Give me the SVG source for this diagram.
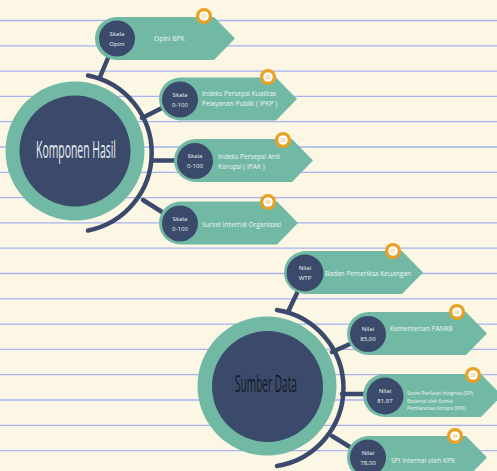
<svg xmlns="http://www.w3.org/2000/svg" width="497" height="471" viewBox="0 0 497 471">
<style>
.ln{stroke:#a6b3f0;stroke-width:1.3}
.cn{stroke:#3b4a6b;stroke-width:4.5;stroke-linecap:round;fill:none}
.pill{fill:#72b9a5}
.dk{fill:#3b4a6b}
.ring{fill:#72b9a5}
.bo{fill:#e9a023}
.bi{fill:#ffffff}
.bt{font-family:"Open Sans","DejaVu Sans",sans-serif;font-size:4.5px;fill:#e9a023;text-anchor:middle}
.sc{font-family:"Open Sans","DejaVu Sans",sans-serif;font-size:6.1px;fill:#eef2ef;text-anchor:middle}
.lb{font-family:"Open Sans","DejaVu Sans",sans-serif;font-size:6.6px;fill:#eef4f0}
.lbs{font-family:"Open Sans","DejaVu Sans",sans-serif;font-size:4.6px;fill:#eef4f0}
.big{font-family:"Open Sans","DejaVu Sans",sans-serif;text-anchor:middle}
</style>
<rect width="497" height="471" fill="#fcf6e5"/>
<g id="paper-lines">
<line class="ln" x1="0" y1="20.5" x2="497" y2="20.5"/>
<line class="ln" x1="0" y1="45.8" x2="497" y2="45.8"/>
<line class="ln" x1="0" y1="71.1" x2="497" y2="71.1"/>
<line class="ln" x1="0" y1="96.4" x2="497" y2="96.4"/>
<line class="ln" x1="0" y1="121.7" x2="497" y2="121.7"/>
<line class="ln" x1="0" y1="147" x2="497" y2="147"/>
<line class="ln" x1="0" y1="172.3" x2="497" y2="172.3"/>
<line class="ln" x1="0" y1="197.6" x2="497" y2="197.6"/>
<line class="ln" x1="0" y1="222.9" x2="497" y2="222.9"/>
<line class="ln" x1="0" y1="248.2" x2="497" y2="248.2"/>
<line class="ln" x1="0" y1="273.5" x2="497" y2="273.5"/>
<line class="ln" x1="0" y1="298.8" x2="497" y2="298.8"/>
<line class="ln" x1="0" y1="324.1" x2="497" y2="324.1"/>
<line class="ln" x1="0" y1="349.4" x2="497" y2="349.4"/>
<line class="ln" x1="0" y1="374.7" x2="497" y2="374.7"/>
<line class="ln" x1="0" y1="400" x2="497" y2="400"/>
<line class="ln" x1="0" y1="425.3" x2="497" y2="425.3"/>
<line class="ln" x1="0" y1="450.6" x2="497" y2="450.6"/>
</g>
<g id="connectors">
<path class="cn" d="M88,75.5 A79 79 0 0 1 88,230.5"/>
<line class="cn" x1="100" y1="77" x2="108" y2="58"/>
<line class="cn" x1="142" y1="118" x2="162" y2="108"/>
<line class="cn" x1="153" y1="160.5" x2="176" y2="160.5"/>
<line class="cn" x1="143" y1="200" x2="162" y2="212"/>
<path class="cn" d="M277,310 A79 79 0 0 1 277,466"/>
<line class="cn" x1="288" y1="312" x2="297" y2="293"/>
<line class="cn" x1="332" y1="352" x2="350" y2="344"/>
<line class="cn" x1="342" y1="394" x2="364" y2="394"/>
<line class="cn" x1="332" y1="436" x2="350" y2="447"/>
</g>
<g id="komponen-hasil">
<circle class="ring" cx="75" cy="151" r="69.5"/>
<circle class="dk" cx="75" cy="151" r="55.5"/>
<text class="big" transform="translate(76,158) scale(0.4525,1)" x="0" y="0" font-size="23" fill="#e9eef0">Komponen Hasil</text>
</g>
<g id="sumber-data">
<circle class="ring" cx="267" cy="386" r="69.5"/>
<circle class="dk" cx="267.5" cy="386.5" r="55.5"/>
<text class="big" transform="translate(266,392) scale(0.421,1)" x="0" y="0" font-size="24" fill="#151a26">Sumber Data</text>
</g>
<g id="k1">
<path class="pill" d="M116.5,17 H214 L235,38.5 L214,60 H116.5 A21.5 21.5 0 0 1 116.5,17 Z"/>
<circle class="dk" cx="117" cy="38.5" r="18"/>
<text class="sc" x="117" y="35.5">Skala</text>
<text class="sc" x="117" y="45.5">Opini</text>
<text class="lb" x="154" y="40.5">Opini BPK</text>
<circle class="bo" cx="204" cy="16" r="8"/><circle class="bi" cx="204" cy="16" r="4.8"/>
<text class="bt" x="204" y="17.6">01</text>
</g>
<g id="k2">
<path class="pill" d="M180.5,77.5 H276 L297,99 L276,120.5 H180.5 A21.5 21.5 0 0 1 180.5,77.5 Z"/>
<circle class="dk" cx="180" cy="99.5" r="18"/>
<text class="sc" x="180" y="96.5">Skala</text>
<text class="sc" x="180" y="106.5">0-100</text>
<text class="lb" x="202" y="96">Indeks Persepsi Kualitas</text>
<text class="lb" x="202" y="106">Pelayanan Publik ( IPKP )</text>
<circle class="bo" cx="268" cy="77" r="8"/><circle class="bi" cx="268" cy="77" r="4.8"/>
<text class="bt" x="268" y="78.6">02</text>
</g>
<g id="k3">
<path class="pill" d="M195.5,139 H292 L313,160.5 L292,182 H195.5 A21.5 21.5 0 0 1 195.5,139 Z"/>
<circle class="dk" cx="195" cy="161" r="18"/>
<text class="sc" x="195" y="158">Skala</text>
<text class="sc" x="195" y="168">0-100</text>
<text class="lb" x="218" y="159">Indeks Persepsi Anti</text>
<text class="lb" x="218" y="169">Korupsi ( IPAK )</text>
<circle class="bo" cx="283" cy="140" r="8"/><circle class="bi" cx="283" cy="140" r="4.8"/>
<text class="bt" x="283" y="141.6">03</text>
</g>
<g id="k4">
<path class="pill" d="M180.5,201.5 H277 L298,223 L277,244.5 H180.5 A21.5 21.5 0 0 1 180.5,201.5 Z"/>
<circle class="dk" cx="180" cy="223.5" r="18"/>
<text class="sc" x="180" y="220.5">Skala</text>
<text class="sc" x="180" y="230.5">0-100</text>
<text class="lb" x="202" y="227">Survei Internal Organisasi</text>
<circle class="bo" cx="268" cy="202" r="8"/><circle class="bi" cx="268" cy="202" r="4.8"/>
<text class="bt" x="268" y="203.6">04</text>
</g>
<g id="s1">
<path class="pill" d="M305.5,251 H402 L423,272.5 L402,294 H305.5 A21.5 21.5 0 0 1 305.5,251 Z"/>
<circle class="dk" cx="305" cy="273" r="18.5"/>
<text class="sc" x="305" y="270">Nilai</text>
<text class="sc" x="305" y="280">WTP</text>
<text class="lb" x="325" y="276">Badan Pemeriksa Keuangan</text>
<circle class="bo" cx="393" cy="251" r="8"/><circle class="bi" cx="393" cy="251" r="4.8"/>
<text class="bt" x="393" y="252.6">01</text>
</g>
<g id="s2">
<path class="pill" d="M368.5,312 H466 L487,333.5 L466,355 H368.5 A21.5 21.5 0 0 1 368.5,312 Z"/>
<circle class="dk" cx="368" cy="334" r="18"/>
<text class="sc" x="368" y="331">Nilai</text>
<text class="sc" x="368" y="341">85,00</text>
<text class="lb" x="390" y="330.5">Kementerian PANRB</text>
<circle class="bo" cx="457" cy="312" r="8"/><circle class="bi" cx="457" cy="312" r="4.8"/>
<text class="bt" x="457" y="313.6">02</text>
</g>
<g id="s3">
<path class="pill" d="M384.5,374 H481 L502,395.5 L481,417 H384.5 A21.5 21.5 0 0 1 384.5,374 Z"/>
<circle class="dk" cx="385" cy="396" r="18.5"/>
<text class="sc" x="385" y="392.5">Nilai</text>
<text class="sc" x="385" y="402.5">81,97</text>
<text class="lbs" x="407" y="395">Survei Penilaian Integritas (SPI)</text>
<text class="lbs" x="407" y="402.5">Eksternal oleh Komisi</text>
<text class="lbs" x="407" y="410">Pemberantas Korupsi (KPK)</text>
<circle class="bo" cx="473" cy="375" r="8"/><circle class="bi" cx="473" cy="375" r="4.8"/>
<text class="bt" x="473" y="376.6">03</text>
</g>
<g id="s4">
<path class="pill" d="M368.5,436 H466 L487,457.5 L466,479 H368.5 A21.5 21.5 0 0 1 368.5,436 Z"/>
<circle class="dk" cx="368" cy="457.5" r="18"/>
<text class="sc" x="368" y="454.5">Nilai</text>
<text class="sc" x="368" y="464.5">78,00</text>
<text class="lb" x="391" y="463">SPI Internal oleh KPK</text>
<circle class="bo" cx="455" cy="436" r="8"/><circle class="bi" cx="455" cy="436" r="4.8"/>
<text class="bt" x="455" y="437.6">04</text>
</g>
</svg>
